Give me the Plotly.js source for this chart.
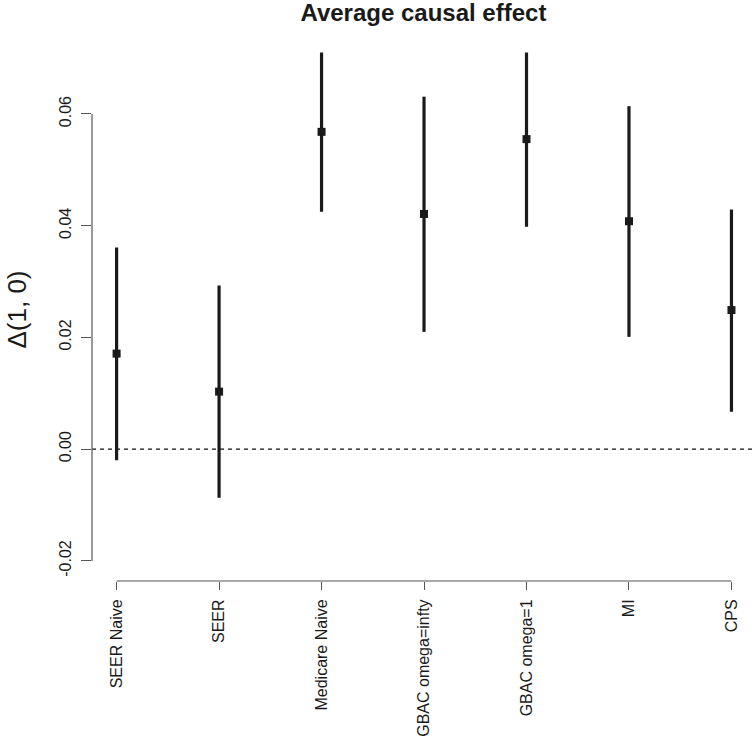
<!DOCTYPE html>
<html>
<head>
<meta charset="utf-8">
<script src="https://cdn.plot.ly/plotly-3.0.1.min.js"></script>
<style>
  html, body { margin: 0; padding: 0; background: #ffffff; }
  #chart { width: 754px; height: 743px; }
</style>
</head>
<body>
<div id="chart"></div>
<script>
// ---- data ----
const categories = ["SEER Naive", "SEER", "Medicare Naive", "GBAC omega=infty", "GBAC omega=1", "MI", "CPS"];
const estimate   = [0.0171, 0.0103, 0.0568, 0.0421, 0.0555, 0.0408, 0.0249];
const lowerCI    = [-0.0020, -0.0087, 0.0425, 0.0210, 0.0398, 0.0201, 0.0067];
const upperCI    = [0.0361, 0.0293, 0.0710, 0.0631, 0.0710, 0.0614, 0.0429];
const yTickVals  = [-0.02, 0.00, 0.02, 0.04, 0.06];
const yTickText  = ["-0.02", "0.00", "0.02", "0.04", "0.06"];
const chartTitle = "Average causal effect";
const yTitle     = "\u0394(1, 0)";
const refLine    = 0;

// ---- derived ----
const xPos = categories.map((_, i) => i + 1);
const errPlus  = estimate.map((v, i) => upperCI[i] - v);
const errMinus = estimate.map((v, i) => v - lowerCI[i]);

const FONT = "'Liberation Sans', Arial, Helvetica, sans-serif";
const INK = "#1a1a1a";
const AXC = "#555555";

const trace = {
  type: "scatter",
  mode: "markers",
  x: xPos,
  y: estimate,
  marker: { symbol: "square", size: 8, color: INK },
  error_y: {
    type: "data",
    symmetric: false,
    array: errPlus,
    arrayminus: errMinus,
    thickness: 3.2,
    width: 0,
    color: INK
  },
  hoverinfo: "skip",
  showlegend: false
};

const layout = {
  width: 754,
  height: 743,
  margin: { l: 92, r: 0, t: 38, b: 162, pad: 0 },
  paper_bgcolor: "#ffffff",
  plot_bgcolor: "#ffffff",
  font: { family: FONT, color: "#000000", size: 16 },
  title: {
    text: "<b>" + chartTitle + "</b>",
    font: { family: FONT, size: 24, color: "#1a1a1a" },
    x: 0.5616, xanchor: "center", xref: "container",
    y: 1 - 13 / 743, yanchor: "middle", yref: "container"
  },
  xaxis: {
    range: [0.76, 7.22],
    tickmode: "array",
    tickvals: xPos,
    ticktext: categories,
    tickangle: -90,
    ticks: "outside",
    ticklen: 8,
    tickwidth: 1,
    tickcolor: AXC,
    ticklabelstandoff: 3,
    tickfont: { family: FONT, size: 16, color: "#1a1a1a" },
    showgrid: false,
    zeroline: false,
    showline: false,
    automargin: false,
    fixedrange: true
  },
  yaxis: {
    range: [-0.0236, 0.0736],
    tickmode: "array",
    tickvals: yTickVals,
    ticktext: yTickText,
    tickangle: -90,
    ticks: "outside",
    ticklen: 10,
    tickwidth: 1,
    tickcolor: AXC,
    ticklabelstandoff: 4,
    tickfont: { family: FONT, size: 16, color: "#1a1a1a" },
    showgrid: false,
    zeroline: false,
    showline: false,
    automargin: false,
    title: {
      text: yTitle,
      font: { family: FONT, size: 26, color: "#1a1a1a" },
      standoff: 22
    },
    fixedrange: true
  },
  shapes: [
    // reference dashed line
    { type: "line", xref: "paper", yref: "y", x0: 0, x1: 1, y0: refLine, y1: refLine,
      line: { color: "#111111", width: 1.1, dash: "4px,4px" }, layer: "below" },
    // y axis line spanning first to last tick (R style)
    { type: "line", xref: "paper", yref: "y", x0: 0, x1: 0,
      y0: yTickVals[0], y1: yTickVals[yTickVals.length - 1],
      line: { color: AXC, width: 1.2 } },
    // x axis line spanning first to last category (R style)
    { type: "line", xref: "x", yref: "paper", x0: xPos[0], x1: xPos[xPos.length - 1],
      y0: 0, y1: 0,
      line: { color: AXC, width: 1.2 } }
  ]
};

Plotly.newPlot("chart", [trace], layout, { displayModeBar: false, staticPlot: true });
</script>
</body>
</html>
